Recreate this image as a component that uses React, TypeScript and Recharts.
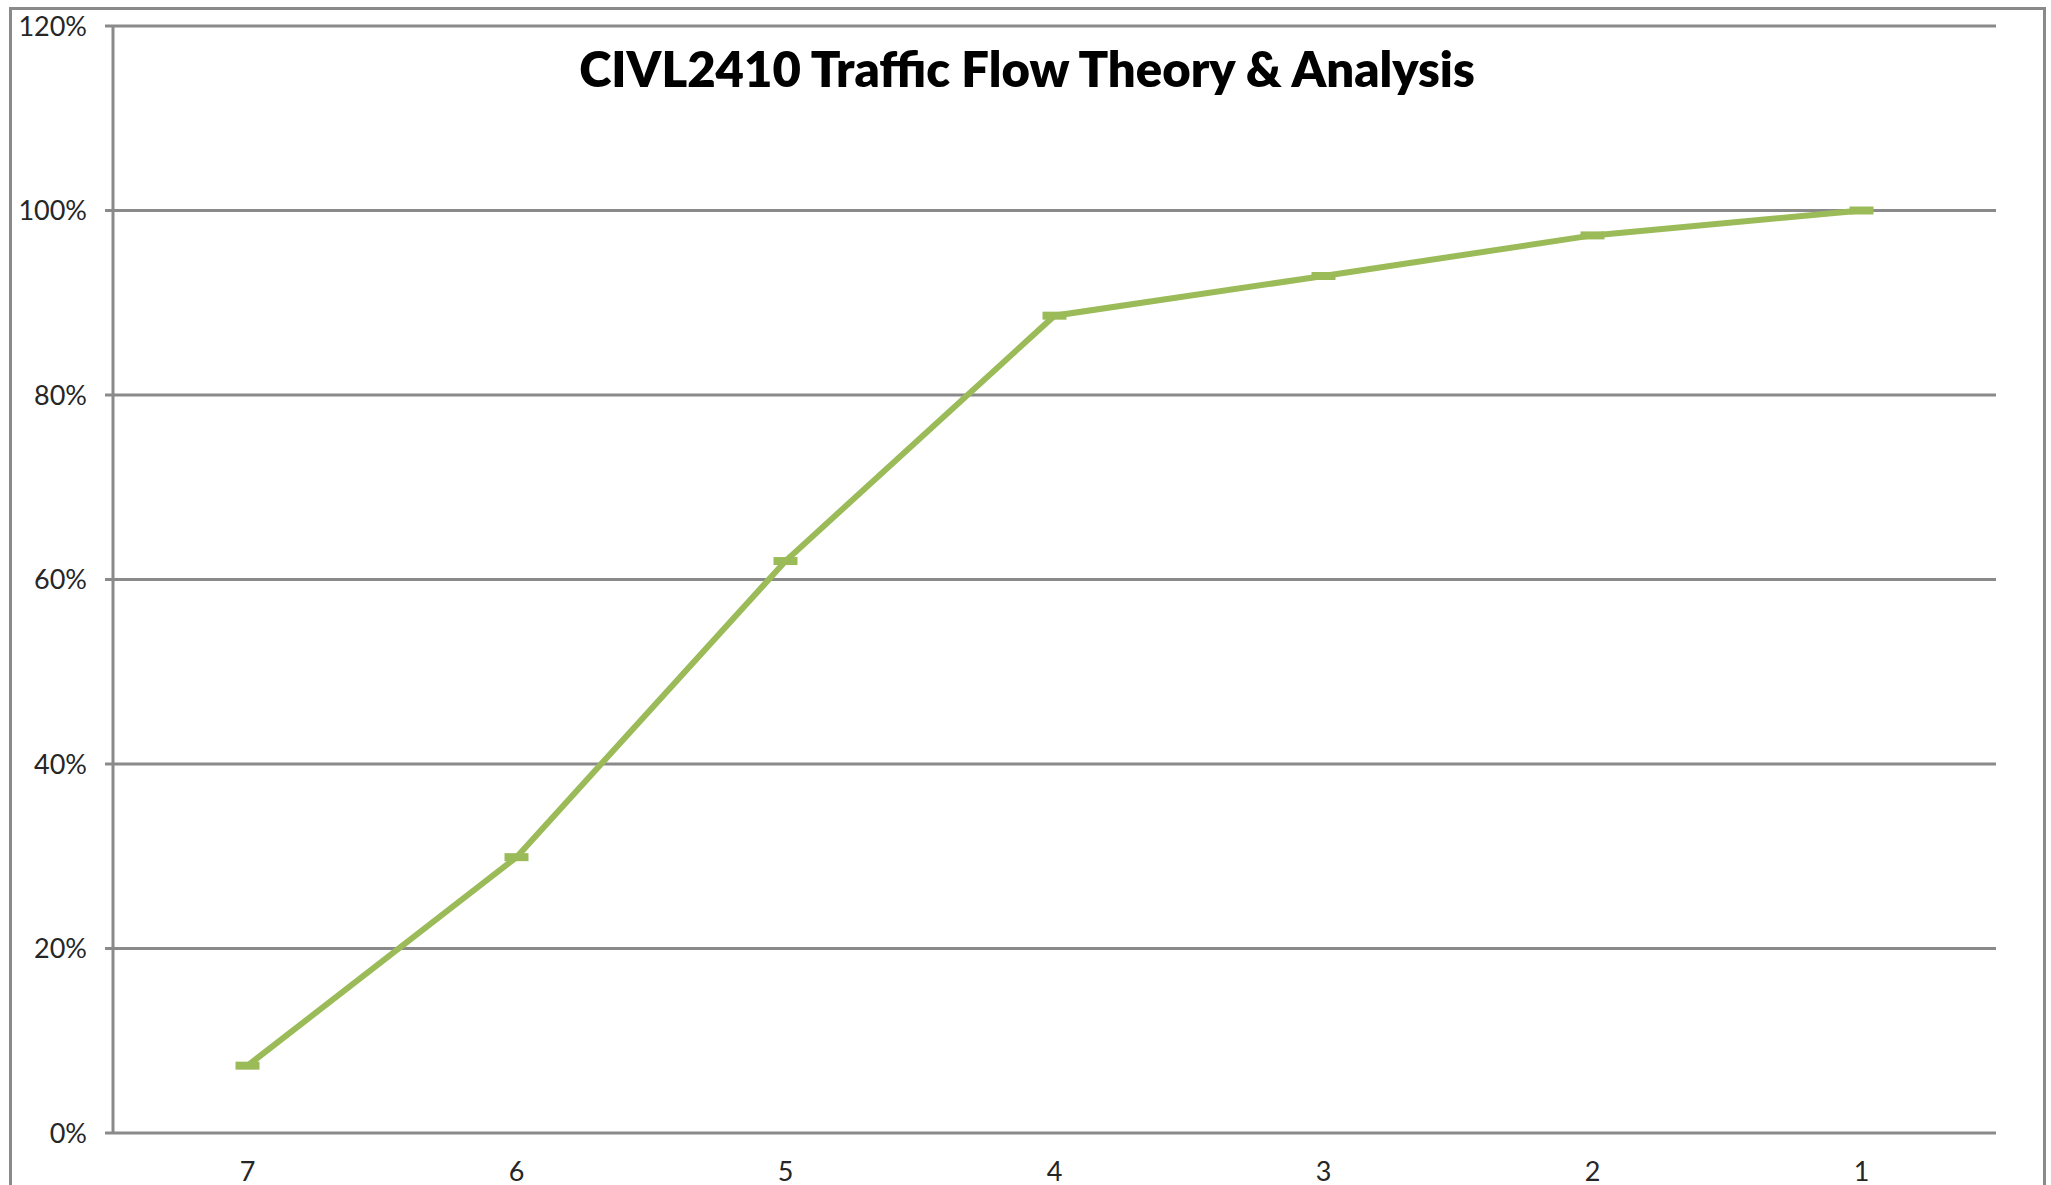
import React from "react";
import { LineChart, Line, XAxis, YAxis, CartesianGrid } from "recharts";

const categories = ["7", "6", "5", "4", "3", "2", "1"];
const values = [0.073, 0.299, 0.62, 0.886, 0.929, 0.973, 1.0];
const yTicks = [0, 0.2, 0.4, 0.6, 0.8, 1.0, 1.2];
const boundaryTicks = [0, 1, 2, 3, 4, 5, 6, 7];
const title = "CIVL2410 Traffic Flow Theory & Analysis";

const data = categories.map((c, i) => ({ label: c, value: values[i] }));

const GRAY = "#8a8a8a";
const GREEN = "#9BBB59";
const FONT = "Lato, 'Open Sans', sans-serif";

const DashDot = (props: any) => {
  const { cx, cy } = props;
  if (cx == null || cy == null) return null;
  return <rect x={cx - 12} y={cy - 4} width={24} height={8} fill={GREEN} />;
};

export default function App() {
  return (
    <div
      style={{
        position: "absolute",
        left: 0,
        top: 0,
        width: 2051,
        height: 1185,
        overflow: "hidden",
        background: "#fff",
      }}
    >
      <div
        style={{
          position: "absolute",
          left: 9,
          top: 7,
          width: 2031,
          height: 1300,
          border: `3px solid ${GRAY}`,
        }}
      />
      <LineChart
        width={2051}
        height={1185}
        data={data}
        margin={{ top: 26, right: 55, left: 13, bottom: 2 }}
      >
        <CartesianGrid
          horizontal
          vertical={false}
          stroke={GRAY}
          strokeWidth={3}
          xAxisId="labels"
        />
        <XAxis
          xAxisId="ticks"
          type="number"
          domain={[0, 7]}
          ticks={boundaryTicks}
          allowDataOverflow
          tick={false}
          tickSize={10}
          height={0}
          axisLine={{ stroke: GRAY, strokeWidth: 3 }}
          tickLine={{ stroke: GRAY, strokeWidth: 3 }}
        />
        <XAxis
          xAxisId="labels"
          dataKey="label"
          type="category"
          scale="band"
          height={50}
          axisLine={false}
          tickLine={false}
          tickSize={0}
          tickMargin={29}
          interval={0}
          tick={{ fill: "#262626", fontSize: 27, fontFamily: FONT }}
        />
        <YAxis
          type="number"
          domain={[0, 1.2]}
          ticks={yTicks}
          width={100}
          interval={0}
          tickSize={8}
          tickMargin={18}
          tickFormatter={(v: number) => `${Math.round(v * 100)}%`}
          axisLine={{ stroke: GRAY, strokeWidth: 3 }}
          tickLine={{ stroke: GRAY, strokeWidth: 3 }}
          tick={{ fill: "#262626", fontSize: 27, fontFamily: FONT }}
        />
        <Line
          xAxisId="labels"
          type="linear"
          dataKey="value"
          stroke={GREEN}
          strokeWidth={6}
          dot={<DashDot />}
          activeDot={false}
          isAnimationActive={false}
        />
      </LineChart>
      <div
        style={{
          position: "absolute",
          left: 0,
          top: 39,
          width: 2054,
          textAlign: "center",
          fontFamily: FONT,
          fontWeight: 800,
          fontSize: 49,
          lineHeight: "58px",
          color: "#000",
          whiteSpace: "nowrap",
        }}
      >
        {title}
      </div>
    </div>
  );
}
